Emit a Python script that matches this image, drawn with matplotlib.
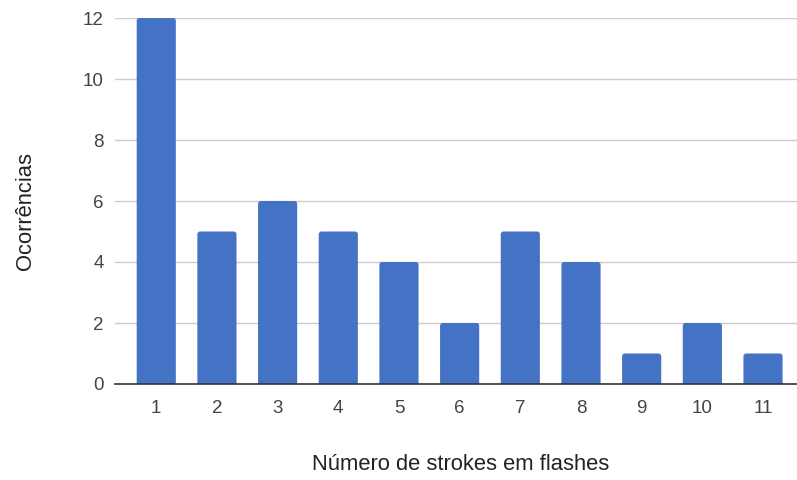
import matplotlib
matplotlib.use("Agg")
import matplotlib.pyplot as plt
from matplotlib.patches import FancyBboxPatch, Rectangle

categories = ["1", "2", "3", "4", "5", "6", "7", "8", "9", "10", "11"]
values = [12, 5, 6, 5, 4, 2, 5, 4, 1, 2, 1]
yticks = [0, 2, 4, 6, 8, 10, 12]

plt.rcParams['font.family'] = ['Liberation Sans', 'DejaVu Sans']

fig = plt.figure(figsize=(7.97, 4.8), dpi=100)
ax = fig.add_axes([115/797, 96/480, (797-115)/797, (384-18)/480])

color = "#4472C4"
xs = list(range(1, len(categories) + 1))
width = 0.645
clip = Rectangle((-5, 0), 30, 30, transform=ax.transData)
for x, v in zip(xs, values):
    p = FancyBboxPatch((x - width/2, -0.3), width, v + 0.3,
                       boxstyle="round,pad=0,rounding_size=0.045",
                       mutation_aspect=2.0, fc=color, ec="none", zorder=2)
    ax.add_patch(p)
    p.set_clip_path(clip)

ax.set_xlim(0.32, 11.56)
ax.set_ylim(0, 12)
ax.set_yticks(yticks)
ax.set_xticks(xs)
ax.set_xticklabels(categories)
ax.grid(axis='y', color='#cccccc', linewidth=1, zorder=0)
ax.set_axisbelow(True)
for s in ['top', 'right', 'left']:
    ax.spines[s].set_visible(False)
ax.spines['bottom'].set_color('#333333')
ax.spines['bottom'].set_linewidth(1.2)
ax.spines['bottom'].set_zorder(3)
ax.tick_params(axis='both', length=0, labelsize=13.5, labelcolor='#444444')
ax.tick_params(axis='y', pad=8)
ax.tick_params(axis='x', pad=11.5)

fig.text(461/797, 1 - 465/480, "Número de strokes em flashes", ha='center', va='center',
         fontsize=15.8, color='#222222')
fig.text(25/797, 1 - 211/480, "Ocorrências", ha='center', va='center', rotation=90,
         fontsize=15.8, color='#222222')

fig.savefig("out.png", dpi=100)
